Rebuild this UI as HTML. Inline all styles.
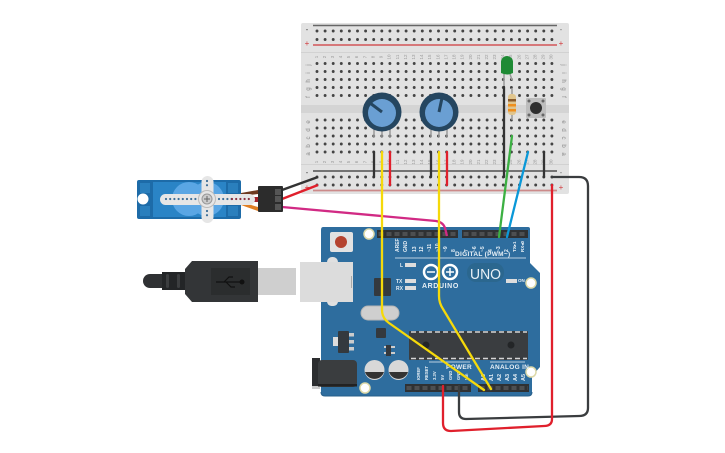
<!DOCTYPE html>
<html><head><meta charset="utf-8"><style>
html,body{margin:0;padding:0;background:#fff;width:725px;height:453px;overflow:hidden}
svg{display:block;font-family:"Liberation Sans",sans-serif}
</style></head><body>
<svg width="725" height="453" viewBox="0 0 725 453" xmlns="http://www.w3.org/2000/svg">
<defs>
<g id="nums" font-size="4.500" fill="#999" text-anchor="middle">
<text transform="translate(318,0) rotate(-90)">1</text><text transform="translate(326,0) rotate(-90)">2</text><text transform="translate(334,0) rotate(-90)">3</text><text transform="translate(342,0) rotate(-90)">4</text><text transform="translate(350,0) rotate(-90)">5</text><text transform="translate(358,0) rotate(-90)">6</text><text transform="translate(366.5,0) rotate(-90)">7</text><text transform="translate(374.500,0) rotate(-90)">8</text><text transform="translate(382.500,0) rotate(-90)">9</text><text transform="translate(390.500,0) rotate(-90)">10</text><text transform="translate(399,0) rotate(-90)">11</text><text transform="translate(407,0) rotate(-90)">12</text><text transform="translate(415,0) rotate(-90)">13</text><text transform="translate(423,0) rotate(-90)">14</text><text transform="translate(431,0) rotate(-90)">15</text><text transform="translate(439.500,0) rotate(-90)">16</text><text transform="translate(447.500,0) rotate(-90)">17</text><text transform="translate(455.500,0) rotate(-90)">18</text><text transform="translate(463.500,0) rotate(-90)">19</text><text transform="translate(472,0) rotate(-90)">20</text><text transform="translate(480,0) rotate(-90)">21</text><text transform="translate(488,0) rotate(-90)">22</text><text transform="translate(496,0) rotate(-90)">23</text><text transform="translate(504,0) rotate(-90)">24</text><text transform="translate(512,0) rotate(-90)">25</text><text transform="translate(520.500,0) rotate(-90)">26</text><text transform="translate(528.500,0) rotate(-90)">27</text><text transform="translate(536.500,0) rotate(-90)">28</text><text transform="translate(544.500,0) rotate(-90)">29</text><text transform="translate(552.500,0) rotate(-90)">30</text>
</g>
</defs>

<!-- Breadboard -->
<rect x="301" y="23" width="268" height="171" rx="2" fill="#e2e2e2"/>
<rect x="301" y="52" width="268" height="1" fill="#d2d2d2"/>
<rect x="301" y="164" width="268" height="1" fill="#d2d2d2"/>
<rect x="301" y="105" width="268" height="8" fill="#d4d4d4"/>
<line x1="313" y1="25.500" x2="557" y2="25.500" stroke="#666" stroke-width="1.500"/>
<line x1="313" y1="45" x2="557" y2="45" stroke="#d0393c" stroke-width="1.200"/>
<line x1="313" y1="171" x2="557" y2="171" stroke="#333" stroke-width="1.200"/>
<line x1="313" y1="190.500" x2="557" y2="190.500" stroke="#cc8a8a" stroke-width="1.800"/>
<g stroke="#444" stroke-width="2.900" stroke-linecap="round" stroke-dasharray="0 8.100" fill="none">
<line x1="317" y1="31" x2="553" y2="31"/><line x1="317" y1="39.500" x2="553" y2="39.500"/>
<line x1="317" y1="63.500" x2="553" y2="63.500"/><line x1="317" y1="71.500" x2="553" y2="71.500"/><line x1="317" y1="79.500" x2="553" y2="79.500"/><line x1="317" y1="87.500" x2="553" y2="87.500"/><line x1="317" y1="95.500" x2="553" y2="95.500"/>
<line x1="317" y1="120" x2="553" y2="120"/><line x1="317" y1="128" x2="553" y2="128"/><line x1="317" y1="136" x2="553" y2="136"/><line x1="317" y1="144" x2="553" y2="144"/><line x1="317" y1="152" x2="553" y2="152"/>
<line x1="317" y1="177" x2="553" y2="177"/><line x1="317" y1="185" x2="553" y2="185"/>
</g>
<use href="#nums" y="57"/><use href="#nums" y="162"/>
<g font-size="6" fill="#888" text-anchor="middle">
<text transform="translate(310,65) rotate(-90)">j</text><text transform="translate(310,73) rotate(-90)">i</text><text transform="translate(310,81) rotate(-90)">h</text><text transform="translate(310,89) rotate(-90)">g</text><text transform="translate(310,97) rotate(-90)">f</text>
<text transform="translate(310,122) rotate(-90)">e</text><text transform="translate(310,130) rotate(-90)">d</text><text transform="translate(310,138) rotate(-90)">c</text><text transform="translate(310,146) rotate(-90)">b</text><text transform="translate(310,154) rotate(-90)">a</text>
<text transform="translate(562,65) rotate(90)">j</text><text transform="translate(562,73) rotate(90)">i</text><text transform="translate(562,81) rotate(90)">h</text><text transform="translate(562,89) rotate(90)">g</text><text transform="translate(562,97) rotate(90)">f</text>
<text transform="translate(562,122) rotate(90)">e</text><text transform="translate(562,130) rotate(90)">d</text><text transform="translate(562,138) rotate(90)">c</text><text transform="translate(562,146) rotate(90)">b</text><text transform="translate(562,154) rotate(90)">a</text>
</g>
<g font-size="8" text-anchor="middle">
<text x="307" y="32" fill="#444">-</text><text x="307" y="46" fill="#d0393c">+</text>
<text x="561" y="32" fill="#777">-</text><text x="561" y="46" fill="#d0393c">+</text>
<text x="307" y="175" fill="#444">-</text><text x="307" y="190" fill="#d0393c">+</text>
<text x="561" y="175" fill="#777">-</text><text x="561" y="190" fill="#d0393c">+</text>
</g>

<!-- Arduino board -->
<path d="M323 227H528Q530 227 530 229V263L540 273V367L532 376V392Q532 396 528 396H325Q321 396 321 392V230Q321 227 323 227Z" fill="#2e6d9e"/>
<path d="M321 392Q321 396 325 396H528Q532 396 532 392" fill="none" stroke="#275f8a" stroke-width="1"/>
<g fill="#2f3133">
<rect x="377" y="230" width="81" height="8"/><rect x="462" y="230" width="66" height="8"/>
<rect x="405" y="384" width="66" height="8"/><rect x="478" y="384" width="51" height="8"/>
</g>
<g stroke="#4d4f51" stroke-width="4" stroke-dasharray="5 3" fill="none">
<line x1="378.500" y1="234" x2="457" y2="234"/><line x1="463.500" y1="234" x2="527" y2="234"/>
<line x1="406.500" y1="388" x2="470" y2="388"/><line x1="479.500" y1="388" x2="528" y2="388"/>
</g>
<g fill="#fff" stroke="#ddd9a8" stroke-width="1.500">
<circle cx="369" cy="234" r="5"/><circle cx="531" cy="283" r="5"/><circle cx="531" cy="372" r="5"/><circle cx="365" cy="388" r="5"/>
</g>
<!-- reset -->
<rect x="330" y="232" width="23" height="20" rx="2" fill="#e2e2e2"/>
<circle cx="341" cy="242" r="6" fill="#b5432f"/>
<!-- USB socket -->
<rect x="327" y="257" width="11" height="10" rx="5" fill="#e0e0e0"/>
<rect x="327" y="297" width="11" height="9" rx="4.500" fill="#e0e0e0"/>
<rect x="300" y="262" width="53" height="40" fill="#dcdcdc"/>
<rect x="351" y="276" width="1" height="12" fill="#aaa"/>
<!-- chips -->
<rect x="374" y="278" width="17" height="18" rx="1" fill="#34393e"/>
<rect x="361" y="306" width="38" height="14" rx="7" fill="#cfcfcf" stroke="#b5b5b5"/>
<rect x="376" y="328" width="10" height="10" rx="1" fill="#34393e"/>
<rect x="333" y="337" width="6" height="9" fill="#ddd"/>
<rect x="349" y="333" width="5" height="3.500" fill="#ccc"/><rect x="349" y="340" width="5" height="3.500" fill="#ccc"/><rect x="349" y="347" width="5" height="3.500" fill="#ccc"/>
<rect x="338" y="331" width="11" height="22" rx="1" fill="#34393e"/>
<rect x="384" y="346" width="11" height="2" fill="#ccc"/><rect x="384" y="352" width="11" height="2" fill="#ccc"/>
<rect x="386" y="345" width="5" height="11" fill="#34393e"/>
<!-- IC -->
<rect x="409" y="331" width="119" height="29" rx="1" fill="#3a3d40"/>
<g stroke="#d5d5d5" stroke-width="1.500" stroke-dasharray="5 3" fill="none">
<line x1="411" y1="332" x2="527" y2="332"/><line x1="411" y1="358.500" x2="527" y2="358.500"/>
</g>
<circle cx="426" cy="345" r="3.500" fill="#232527"/><circle cx="511" cy="345" r="3.500" fill="#232527"/>
<!-- capacitors -->
<circle cx="374.500" cy="370" r="10" fill="#d8d8d8"/><path d="M365 372A10 10 0 0 0 384 372Z" fill="#333"/>
<circle cx="398.500" cy="370" r="10" fill="#d8d8d8"/><path d="M389 372A10 10 0 0 0 408 372Z" fill="#333"/>
<!-- jack -->
<rect x="312" y="358" width="8" height="30" fill="#2c2e30"/>
<rect x="312" y="386" width="8" height="3" fill="#ccc"/>
<rect x="318" y="360" width="39" height="27" rx="4" fill="#3a3d3f"/>
<rect x="318" y="384" width="39" height="2.500" fill="#222"/>

<!-- Arduino labels -->
<g fill="#e8f0f6" font-size="5" font-weight="bold">
<text transform="translate(399,252) rotate(-90)">AREF</text><text transform="translate(407,252) rotate(-90)">GND</text><text transform="translate(416,252) rotate(-90)">13</text><text transform="translate(423,252) rotate(-90)">12</text><text transform="translate(431,252) rotate(-90)">~11</text><text transform="translate(439,252) rotate(-90)">~10</text><text transform="translate(447,252) rotate(-90)">~9</text><text transform="translate(455,252) rotate(-90)">8</text>
<text transform="translate(468,252) rotate(-90)">7</text><text transform="translate(476,252) rotate(-90)">~6</text><text transform="translate(484,252) rotate(-90)">~5</text><text transform="translate(492,252) rotate(-90)">4</text><text transform="translate(500,252) rotate(-90)">~3</text><text transform="translate(508,252) rotate(-90)">2</text><text transform="translate(516,252) rotate(-90)" font-size="4.500">TX▸1</text><text transform="translate(524,252) rotate(-90)" font-size="4.500">RX◂0</text>
</g>
<g fill="#e8f0f6" font-size="4.200" font-weight="bold">
<text transform="translate(420,380) rotate(-90)">IOREF</text><text transform="translate(428,380) rotate(-90)">RESET</text><text transform="translate(436,380) rotate(-90)">3.3V</text><text transform="translate(444,380) rotate(-90)">5V</text><text transform="translate(452,380) rotate(-90)">GND</text><text transform="translate(460,380) rotate(-90)">GND</text><text transform="translate(468,380) rotate(-90)">Vin</text>
</g>
<g fill="#e8f0f6" font-size="5.500" font-weight="bold">
<text transform="translate(485,381) rotate(-90)">A0</text><text transform="translate(493,381) rotate(-90)">A1</text><text transform="translate(501,381) rotate(-90)">A2</text><text transform="translate(509,381) rotate(-90)">A3</text><text transform="translate(517,381) rotate(-90)">A4</text><text transform="translate(525,381) rotate(-90)">A5</text>
<text x="400" y="267" font-size="5">L</text><text x="396" y="283" font-size="5">TX</text><text x="396" y="290" font-size="5">RX</text>
<text x="518" y="282" font-size="4.500">ON</text>
<text x="455" y="256" font-size="6.500" letter-spacing=".3">DIGITAL (PWM~)</text>
<text x="446" y="369" font-size="6.500" letter-spacing=".3">POWER</text>
<text x="490" y="369" font-size="6.500" letter-spacing=".3">ANALOG IN</text>
<text x="422" y="288" font-size="7" letter-spacing=".6">ARDUINO</text>
</g>
<g stroke="#e8f0f6" stroke-width=".8" fill="none">
<line x1="395" y1="258" x2="526" y2="258"/>
<line x1="429" y1="362" x2="470" y2="362"/><line x1="490" y1="362" x2="525" y2="362"/>
</g>
<g fill="#ddd"><rect x="405" y="263" width="11" height="4"/><rect x="405" y="279" width="11" height="4"/><rect x="405" y="286" width="11" height="4"/><rect x="506" y="279" width="11" height="4"/></g>
<g fill="none" stroke="#fff" stroke-width="2.500"><circle cx="431" cy="272" r="7"/><circle cx="450" cy="272" r="7"/></g>
<g stroke="#fff" stroke-width="1.500"><line x1="427" y1="272" x2="435" y2="272"/><line x1="446" y1="272" x2="454" y2="272"/><line x1="450" y1="268" x2="450" y2="276"/></g>
<rect x="467" y="263" width="37" height="19" rx="9" fill="#2b678f"/>
<text x="470" y="279" font-size="15" fill="#e8f0f6" textLength="31" lengthAdjust="spacingAndGlyphs">UNO</text>

<!-- LED -->
<g stroke="#9a9a9a" stroke-width="1.500"><line x1="504" y1="74" x2="504" y2="88"/><line x1="510" y1="74" x2="512" y2="80"/></g>
<path d="M501 62A6 6 0 0 1 513 62V73Q507 76 501 73Z" fill="#1e8a34"/>
<!-- Resistor -->
<line x1="512" y1="88" x2="512" y2="120" stroke="#999" stroke-width="1.500"/>
<rect x="508" y="94" width="8" height="21" rx="3" fill="#e0c58d"/>
<rect x="508" y="99" width="8" height="2.500" fill="#8a5a2b"/><rect x="508" y="104" width="8" height="2.500" fill="#ef8f1e"/><rect x="508" y="109" width="8" height="2.500" fill="#ef8f1e"/>
<!-- Button -->
<rect x="526" y="98" width="20" height="20" rx="1" fill="#bdbdbd"/>
<g fill="#666"><circle cx="529" cy="101" r="1.500"/><circle cx="543" cy="101" r="1.500"/><circle cx="529" cy="115" r="1.500"/><circle cx="543" cy="115" r="1.500"/></g>
<circle cx="536" cy="108" r="6" fill="#2e2e2e"/>
<!-- Pots -->
<g stroke="#9a9a9a" stroke-width="1.500"><line x1="374" y1="128" x2="374" y2="137"/><line x1="382" y1="128" x2="382" y2="137"/><line x1="390" y1="128" x2="390" y2="137"/><line x1="431" y1="128" x2="431" y2="137"/><line x1="439" y1="128" x2="439" y2="137"/><line x1="447" y1="128" x2="447" y2="137"/></g>
<circle cx="382" cy="112" r="19.500" fill="#254660"/><circle cx="382" cy="113" r="14" fill="#6a9fd3"/>
<line x1="382" y1="112" x2="370" y2="103" stroke="#254660" stroke-width="3"/>
<circle cx="439" cy="112" r="19.500" fill="#254660"/><circle cx="439" cy="113" r="14" fill="#6a9fd3"/>
<line x1="439" y1="112" x2="442" y2="98" stroke="#254660" stroke-width="3"/>

<!-- USB plug -->
<rect x="258" y="268" width="38" height="27" fill="#cfcfcf"/>
<path d="M150 274H170V288H150A7 7 0 0 1 150 274Z" fill="#2f3133"/>
<rect x="162" y="272" width="23" height="18" fill="#232527"/>
<rect x="166" y="274" width="3" height="14" rx="1.500" fill="#3c3e40"/><rect x="177" y="274" width="3" height="14" rx="1.500" fill="#3c3e40"/>
<path d="M185 269L192 261H258V302H192L185 294Z" fill="#333537"/>
<rect x="211" y="268" width="39" height="27" fill="#2b2d2e"/>
<g stroke="#111" stroke-width="1.200" fill="none"><path d="M216 282H240M224 282L229 277H233M226 282L231 287H235"/></g>
<circle cx="242" cy="282" r="2.500" fill="#111"/>

<!-- Servo -->
<rect x="137" y="180" width="104" height="39" rx="2" fill="#1d6ba8"/>
<rect x="153" y="182" width="73" height="35" fill="#2a84c6"/>
<rect x="140" y="183" width="10" height="10" fill="#2a7fbd"/><rect x="140" y="206" width="10" height="10" fill="#2a7fbd"/><rect x="228" y="183" width="10" height="10" fill="#2a7fbd"/><rect x="228" y="206" width="10" height="10" fill="#2a7fbd"/>
<circle cx="143" cy="199" r="5.500" fill="#fff"/>
<path d="M172 199A17 17 0 0 1 206 199A17 17 0 0 1 172 199Z" fill="#5aa6e4"/>
<circle cx="207" cy="199" r="17" fill="#5aa6e4"/>
<path d="M241 193L258 190V194L241 196Z" fill="#6e3a20"/>
<path d="M241 197H258V202H241Z" fill="#a3202a"/>
<path d="M241 202L258 207V211L241 205Z" fill="#e07f23"/>
<rect x="160" y="194" width="95" height="11" rx="5.500" fill="#e6e6e6"/>
<rect x="201.500" y="176" width="12" height="47" rx="6" fill="#e6e6e6"/>
<circle cx="207" cy="199" r="8.500" fill="#e6e6e6" stroke="#bbb"/><circle cx="207" cy="199" r="5" fill="#ccc" stroke="#999"/>
<path d="M204 199H210M207 196V202" stroke="#666"/>
<g stroke="#3d6f98" stroke-width="2.200" stroke-linecap="round" stroke-dasharray="0 4.200" fill="none">
<line x1="166" y1="199" x2="196" y2="199"/><line x1="219" y1="199" x2="232" y2="199"/><line x1="207" y1="181" x2="207" y2="188"/><line x1="207" y1="211" x2="207" y2="218"/>
</g>
<g stroke="#8a3040" stroke-width="2.200" stroke-linecap="round" stroke-dasharray="0 4.200" fill="none"><line x1="232" y1="199" x2="251" y2="199"/></g>
<!-- Servo wires -->
<path d="M282 190L318 177" stroke="#333" stroke-width="2.500" fill="none"/>
<path d="M282 199L318 185" stroke="#e0202c" stroke-width="2.500" fill="none"/>
<path d="M282 207L436 221Q443 222 445 228L447 236" stroke="#d12a84" stroke-width="2.300" fill="none"/>
<rect x="258" y="186" width="25" height="26" rx="1" fill="#2c2c2c"/>
<rect x="275" y="189" width="6" height="6" fill="#555"/><rect x="275" y="196" width="6" height="6" fill="#555"/><rect x="275" y="204" width="6" height="6" fill="#555"/>

<!-- Wires -->
<g fill="none" stroke-width="2.300" stroke-linecap="round">
<path d="M504 87V177" stroke="#333"/>
<path d="M374 152V177" stroke="#333"/>
<path d="M390 152V185" stroke="#e0202c"/>
<path d="M431 152V177" stroke="#333"/>
<path d="M447 152V185" stroke="#e0202c"/>
<path d="M544 152V177" stroke="#333"/>
<path d="M552 177H579Q588 177 588 186V408Q588 416 579 416L466 419Q459 419 459 412V386" stroke="#3a3d3f"/>
<path d="M552 185V419Q552 426 544 426L451 431Q443 431 443 423V386" stroke="#e0202c"/>
<path d="M512 136L499 237" stroke="#3cb043"/>
<path d="M528 152L507 237" stroke="#0a98d8"/>
<path d="M382 152V310Q382 318 389 323L484 390" stroke="#f5d90a"/>
<path d="M439 152V296Q439 303 443 309L491 389" stroke="#f5d90a"/>
</g>
</svg>
</body></html>
